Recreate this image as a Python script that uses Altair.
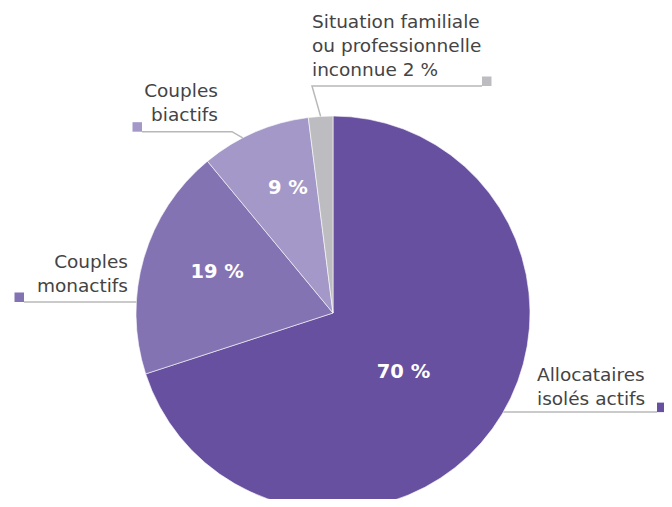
import math
import altair as alt
import pandas as pd

# ---- data ----
categories = ["Allocataires isolés actifs", "Couples monactifs", "Couples biactifs",
              "Situation familiale ou professionnelle inconnue"]
values = [70, 19, 9, 2]
inner_labels = ["70 %", "19 %", "9 %", ""]
outer_labels = ["Allocataires\nisolés actifs", "Couples\nmonactifs", "Couples\nbiactifs",
                "Situation familiale\nou professionnelle\ninconnue 2 %"]
colors = ["#6750A0", "#8473B3", "#A398C8", "#BDBDC1"]

# ---- layout (pixels within the chart) ----
W, H = 656, 491
CX, CY, R = 325, 305, 197
inner_frac = [0.516, 0.55, 0.61, None]      # position of % label inside slice (angle fraction)
inner_rad = [92, 123, 133, None]            # radius of % label
anchor_frac = [0.477, 0.31, 0.38, 0.5]      # where the leader line touches the arc
elbow = [None, None, (224, 123.7), (304, 78)]
line_end_x = [649, 16, 134, 474]            # end of the leader line (square side)
side = [1, -1, -1, 1]                       # square to the right (+1) or left (-1) of the line end
text_pos = [(529, 373, "left"), (120, 260, "right"), (210, 89, "right"), (304, 20, "left")]
SQ = 9.5
FONT = "DejaVu Sans"

total = sum(values)
starts, cum = [], 0
for v in values:
    starts.append(cum / total * 2 * math.pi)
    cum += v
spans = [v / total * 2 * math.pi for v in values]


def polar(angle, r):
    return CX + r * math.sin(angle), CY - r * math.cos(angle)


pie_df = pd.DataFrame({"cat": categories, "value": values, "idx": list(range(len(values))),
                       "hex": colors})

inner_rows = []
for i, lab in enumerate(inner_labels):
    if not lab:
        continue
    x, y = polar(starts[i] + inner_frac[i] * spans[i], inner_rad[i])
    inner_rows.append({"x": x, "y": y, "t": lab})
inner_df = pd.DataFrame(inner_rows)

line_rows, sq_rows, txt_rows = [], [], []
for i in range(len(values)):
    ax, ay = polar(starts[i] + anchor_frac[i] * spans[i], R)
    pts = [(ax, ay)]
    if elbow[i] is not None:
        pts.append(elbow[i])
        ly = elbow[i][1]
    else:
        ly = ay
    pts.append((line_end_x[i], ly))
    for s, (x, y) in enumerate(pts):
        line_rows.append({"k": i, "s": s, "x": x, "y": y})
    sq_rows.append({"x": line_end_x[i] + side[i] * SQ / 2, "y": ly - SQ / 2, "hex": colors[i]})
    tx, ty, al = text_pos[i]
    txt_rows.append({"x": tx, "y": ty, "t": outer_labels[i], "al": al})
line_df = pd.DataFrame(line_rows)
sq_df = pd.DataFrame(sq_rows)
txt_df = pd.DataFrame(txt_rows)

X = lambda: alt.X("x:Q", scale=None, axis=None)
Y = lambda: alt.Y("y:Q", scale=None, axis=None)

pie = alt.Chart(pie_df).mark_arc(radius=R, stroke="#ffffff", strokeWidth=0.6).encode(
    theta=alt.Theta("value:Q", stack=True),
    order=alt.Order("idx:Q"),
    color=alt.Color("hex:N", scale=None, legend=None),
    x=alt.value(CX),
    y=alt.value(CY),
)

inner = alt.Chart(inner_df).mark_text(
    font=FONT, fontSize=19.5, fontWeight="bold", color="#ffffff",
    align="center", baseline="middle"
).encode(x=X(), y=Y(), text="t:N")

lines = alt.Chart(line_df).mark_line(color="#b8b8b8", strokeWidth=1.5).encode(
    x=X(), y=Y(), detail="k:N", order="s:Q"
)

squares = alt.Chart(sq_df).mark_square(size=SQ * SQ, opacity=1, filled=True).encode(
    x=X(), y=Y(), color=alt.Color("hex:N", scale=None, legend=None)
)

left_txt = alt.Chart(txt_df[txt_df.al == "left"]).mark_text(
    font=FONT, fontSize=18.5, color="#444444", align="left", baseline="alphabetic",
    lineBreak="\n", lineHeight=24
).encode(x=X(), y=Y(), text="t:N")

right_txt = alt.Chart(txt_df[txt_df.al == "right"]).mark_text(
    font=FONT, fontSize=18.5, color="#444444", align="right", baseline="alphabetic",
    lineBreak="\n", lineHeight=24
).encode(x=X(), y=Y(), text="t:N")

chart = alt.layer(pie, lines, squares, inner, left_txt, right_txt).properties(
    width=W, height=H, autosize=alt.AutoSizeParams(type="none"), padding=0
).configure_view(stroke=None)

chart.save("out.html", embed_options={"renderer": "svg", "actions": False})
